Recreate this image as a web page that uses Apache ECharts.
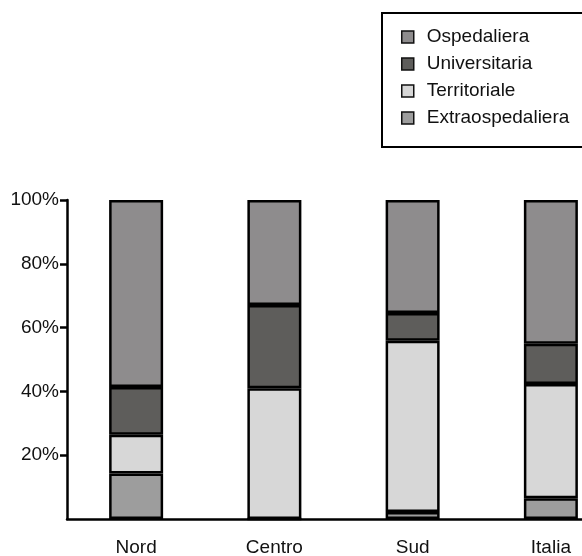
<!DOCTYPE html>
<html>
<head>
<meta charset="utf-8">
<script src="https://cdn.jsdelivr.net/npm/echarts@6/dist/echarts.min.js"></script>
<style>
  html, body { margin: 0; padding: 0; background: #fff; }
  #chart { width: 582px; height: 556px; }
</style>
</head>
<body>
<div id="chart"></div>
<script>
// Share of each structure type by area (percent of total)
const categories = ['Nord', 'Centro', 'Sud', 'Italia'];
const ospedaliera = [58.6, 32.9, 35.4, 45.1];
const universitaria = [15.0, 26.1, 8.7, 12.6];
const territoriale = [12.1, 41.0, 53.7, 35.8];
const extraospedaliera = [14.3, 0, 2.2, 6.5];
const yTicks = [20, 40, 60, 80, 100];

const FONT = "'Liberation Sans', Arial, sans-serif";

// Bottom-to-top stacking order; legend lists them top-to-bottom
const layers = [
  { name: 'Extraospedaliera', data: extraospedaliera, color: '#9d9d9d' },
  { name: 'Territoriale', data: territoriale, color: '#d7d7d7' },
  { name: 'Universitaria', data: universitaria, color: '#5e5d5b' },
  { name: 'Ospedaliera', data: ospedaliera, color: '#8e8c8d' }
];

const chart = echarts.init(document.getElementById('chart'), null, { renderer: 'canvas' });

chart.setOption({
  animation: false,
  backgroundColor: '#ffffff',
  textStyle: { fontFamily: FONT },
  legend: {
    data: ['Ospedaliera', 'Universitaria', 'Territoriale', 'Extraospedaliera'],
    orient: 'vertical',
    left: 382,
    top: 13,
    padding: [14, 30, 19, 19],
    itemWidth: 12,
    itemHeight: 12,
    itemGap: 7,
    icon: 'rect',
    borderColor: '#000',
    borderWidth: 2,
    borderRadius: 0,
    itemStyle: { borderColor: '#111', borderWidth: 1.5 },
    textStyle: {
      fontFamily: FONT,
      fontSize: 19,
      color: '#111',
      lineHeight: 20,
      padding: [0, 0, 0, 8]
    }
  },
  grid: {
    left: 67,
    right: -38,
    top: 200,
    bottom: 37,
    containLabel: false,
    outerBoundsMode: 'none'
  },
  xAxis: {
    type: 'category',
    data: categories,
    axisLine: { lineStyle: { color: '#000', width: 2.5 } },
    axisTick: { show: false },
    axisLabel: {
      fontFamily: FONT,
      fontSize: 19,
      color: '#111',
      margin: 19
    }
  },
  yAxis: {
    type: 'value',
    min: 0,
    max: 100,
    interval: 20,
    axisLine: { show: true, lineStyle: { color: '#000', width: 2.5 } },
    axisTick: {
      show: true,
      length: 7,
      customValues: yTicks,
      lineStyle: { color: '#000', width: 2.5 }
    },
    splitLine: { show: false },
    axisLabel: {
      fontFamily: FONT,
      fontSize: 19,
      color: '#111',
      margin: 8,
      customValues: yTicks,
      formatter: v => v + '%'
    }
  },
  series: layers.map(l => ({
    name: l.name,
    type: 'bar',
    stack: 'total',
    barWidth: 54,
    data: l.data,
    itemStyle: {
      color: l.color,
      borderColor: '#000',
      borderWidth: 2.5
    }
  }))
});
</script>
</body>
</html>
